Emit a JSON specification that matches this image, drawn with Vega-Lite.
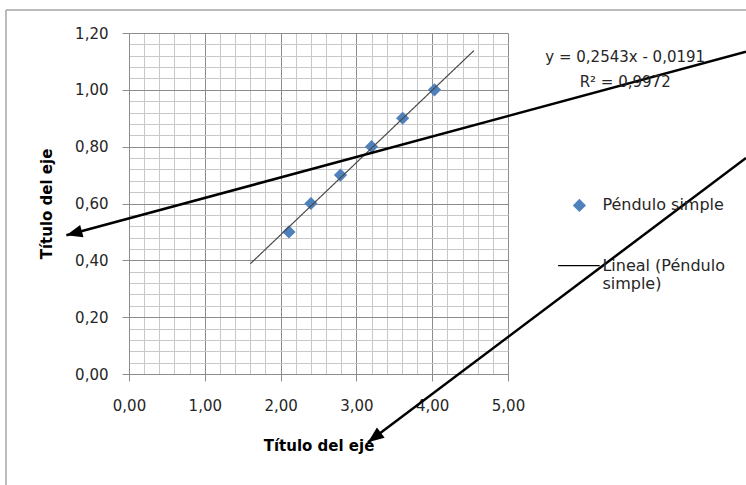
{
  "$schema": "https://vega.github.io/schema/vega-lite/v6.json",
  "width": 379,
  "height": 341,
  "autosize": {"type": "none"},
  "padding": {"left": 129, "top": 33, "right": 238, "bottom": 111},
  "background": "white",
  "config": {"view": {"stroke": null}, "font": "DejaVu Sans"},
  "datasets": {
    "points": [
      {"x": 2.11, "y": 0.50, "serie": "Péndulo simple"},
      {"x": 2.40, "y": 0.60, "serie": "Péndulo simple"},
      {"x": 2.79, "y": 0.70, "serie": "Péndulo simple"},
      {"x": 3.20, "y": 0.80, "serie": "Péndulo simple"},
      {"x": 3.61, "y": 0.90, "serie": "Péndulo simple"},
      {"x": 4.03, "y": 1.00, "serie": "Péndulo simple"}
    ],
    "trend": [
      {"x": 1.6, "y": 0.3878, "serie": "Lineal (Péndulo simple)"},
      {"x": 4.55, "y": 1.1380, "serie": "Lineal (Péndulo simple)"}
    ],
    "arrows": [
      {"id": 1, "x": 8.14, "y": 1.134, "x2": -0.826, "y2": 0.488},
      {"id": 2, "x": 8.14, "y": 0.760, "x2": 3.153, "y2": -0.240}
    ],
    "heads": [
      {"id": 1, "x": -0.826, "y": 0.488},
      {"id": 2, "x": 3.153, "y": -0.240}
    ],
    "frame": [
      {"x": -1.623, "y": 1.281, "x2": -1.623, "y2": -0.6},
      {"x": -1.623, "y": 1.281, "x2": 9.0, "y2": 1.281}
    ],
    "notes": [
      {"x": 6.546, "y": 1.116, "text": "y = 0,2543x - 0,0191"},
      {"x": 6.546, "y": 1.029, "text": "R² = 0,9972"}
    ]
  },
  "encoding": {
    "x": {
      "field": "x",
      "type": "quantitative",
      "scale": {"domain": [0, 5], "nice": false, "zero": false},
      "axis": {
        "title": "Título del eje",
        "titleFont": "DejaVu Sans",
        "titleFontWeight": "bold",
        "titleFontSize": 15,
        "titleColor": "#000000",
        "titlePadding": 25,
        "values": [0, 0.2, 0.4, 0.6, 0.8, 1, 1.2, 1.4, 1.6, 1.8, 2, 2.2, 2.4, 2.6, 2.8, 3, 3.2, 3.4, 3.6, 3.8, 4, 4.2, 4.4, 4.6, 4.8, 5],
        "labelExpr": "datum.value % 1 === 0 ? replace(format(datum.value, '.2f'), '.', ',') : ''",
        "labelFontSize": 15,
        "labelColor": "#262626",
        "labelPadding": 17,
        "labelFlush": false,
        "labelOverlap": false,
        "tickSize": 7,
        "tickColor": {"condition": {"test": "datum.value % 1 === 0", "value": "#8c8c8c"}, "value": "transparent"},
        "grid": true,
        "gridColor": {"condition": {"test": "datum.value % 1 === 0", "value": "#8c8c8c"}, "value": "#c8c8c8"},
        "domainColor": "#8c8c8c"
      }
    },
    "y": {
      "field": "y",
      "type": "quantitative",
      "scale": {"domain": [0, 1.2], "nice": false, "zero": false},
      "axis": {
        "title": "Título del eje",
        "titleFont": "DejaVu Sans",
        "titleFontWeight": "bold",
        "titleFontSize": 15,
        "titleColor": "#000000",
        "titlePadding": 20,
        "values": [0, 0.04, 0.08, 0.12, 0.16, 0.2, 0.24, 0.28, 0.32, 0.36, 0.4, 0.44, 0.48, 0.52, 0.56, 0.6, 0.64, 0.68, 0.72, 0.76, 0.8, 0.84, 0.88, 0.92, 0.96, 1, 1.04, 1.08, 1.12, 1.16, 1.2],
        "labelExpr": "abs(datum.value * 5 - round(datum.value * 5)) < 0.001 ? replace(format(datum.value, '.2f'), '.', ',') : ''",
        "labelFontSize": 15,
        "labelColor": "#262626",
        "labelPadding": 14,
        "labelFlush": false,
        "labelOverlap": false,
        "tickSize": 7,
        "tickColor": {"condition": {"test": "abs(datum.value * 5 - round(datum.value * 5)) < 0.001", "value": "#8c8c8c"}, "value": "transparent"},
        "grid": true,
        "gridColor": {"condition": {"test": "abs(datum.value * 5 - round(datum.value * 5)) < 0.001", "value": "#8c8c8c"}, "value": "#c8c8c8"},
        "domainColor": "#8c8c8c"
      }
    }
  },
  "layer": [
    {
      "data": {"name": "points"},
      "mark": {"type": "point", "shape": "diamond", "filled": true, "size": 175, "opacity": 1},
      "encoding": {
        "color": {
          "field": "serie",
          "type": "nominal",
          "scale": {"domain": ["Péndulo simple"], "range": ["#4f81bd"]},
          "legend": {
            "title": null,
            "orient": "none",
            "legendX": 442.4,
            "legendY": 164.4,
            "symbolSize": 175,
            "symbolType": "diamond",
            "symbolOpacity": 1,
            "labelOffset": 15,
            "labelFont": "DejaVu Sans",
            "labelFontSize": 16,
            "labelColor": "#262626",
            "labelLimit": 250
          }
        }
      }
    },
    {
      "data": {"name": "trend"},
      "mark": {"type": "line", "strokeWidth": 1.2, "color": "#4a4a4a", "clip": false},
      "encoding": {
        "strokeDash": {
          "field": "serie",
          "type": "nominal",
          "scale": {"domain": ["Lineal (Péndulo simple)"], "range": [[1, 0]]},
          "legend": {
            "title": null,
            "orient": "none",
            "legendX": 428.4,
            "legendY": 211.2,
            "symbolSize": 1730,
            "symbolType": "stroke",
            "symbolStrokeColor": "#000000",
            "symbolStrokeWidth": 1.2,
            "symbolDash": [1, 0],
            "labelOffset": 2,
            "labelFont": "DejaVu Sans",
            "labelFontSize": 16,
            "labelColor": "#262626",
            "labelLimit": 250,
            "labelExpr": "['Lineal (Péndulo', 'simple)']"
          }
        }
      }
    },
    {
      "data": {"name": "frame"},
      "mark": {"type": "rule", "color": "#a6a6a6", "strokeWidth": 1.5, "clip": false},
      "encoding": {
        "x2": {"field": "x2"},
        "y2": {"field": "y2"}
      }
    },
    {
      "data": {"name": "arrows"},
      "mark": {"type": "rule", "color": "#000000", "strokeWidth": 2.5, "clip": false},
      "encoding": {
        "x2": {"field": "x2"},
        "y2": {"field": "y2"}
      }
    },
    {
      "data": {"name": "heads"},
      "transform": [{"filter": "datum.id === 1"}],
      "mark": {"type": "point", "shape": "M0,0L2,-0.8L2,0.8Z", "filled": true, "color": "#000000", "size": 256, "angle": 344.8, "opacity": 1, "clip": false},
      "encoding": {}
    },
    {
      "data": {"name": "heads"},
      "transform": [{"filter": "datum.id === 2"}],
      "mark": {"type": "point", "shape": "M0,0L2,-0.8L2,0.8Z", "filled": true, "color": "#000000", "size": 256, "angle": 323, "opacity": 1, "clip": false},
      "encoding": {}
    },
    {
      "data": {"name": "notes"},
      "mark": {"type": "text", "align": "center", "baseline": "middle", "font": "DejaVu Sans", "fontSize": 15, "color": "#262626", "clip": false},
      "encoding": {"text": {"field": "text"}}
    }
  ]
}
